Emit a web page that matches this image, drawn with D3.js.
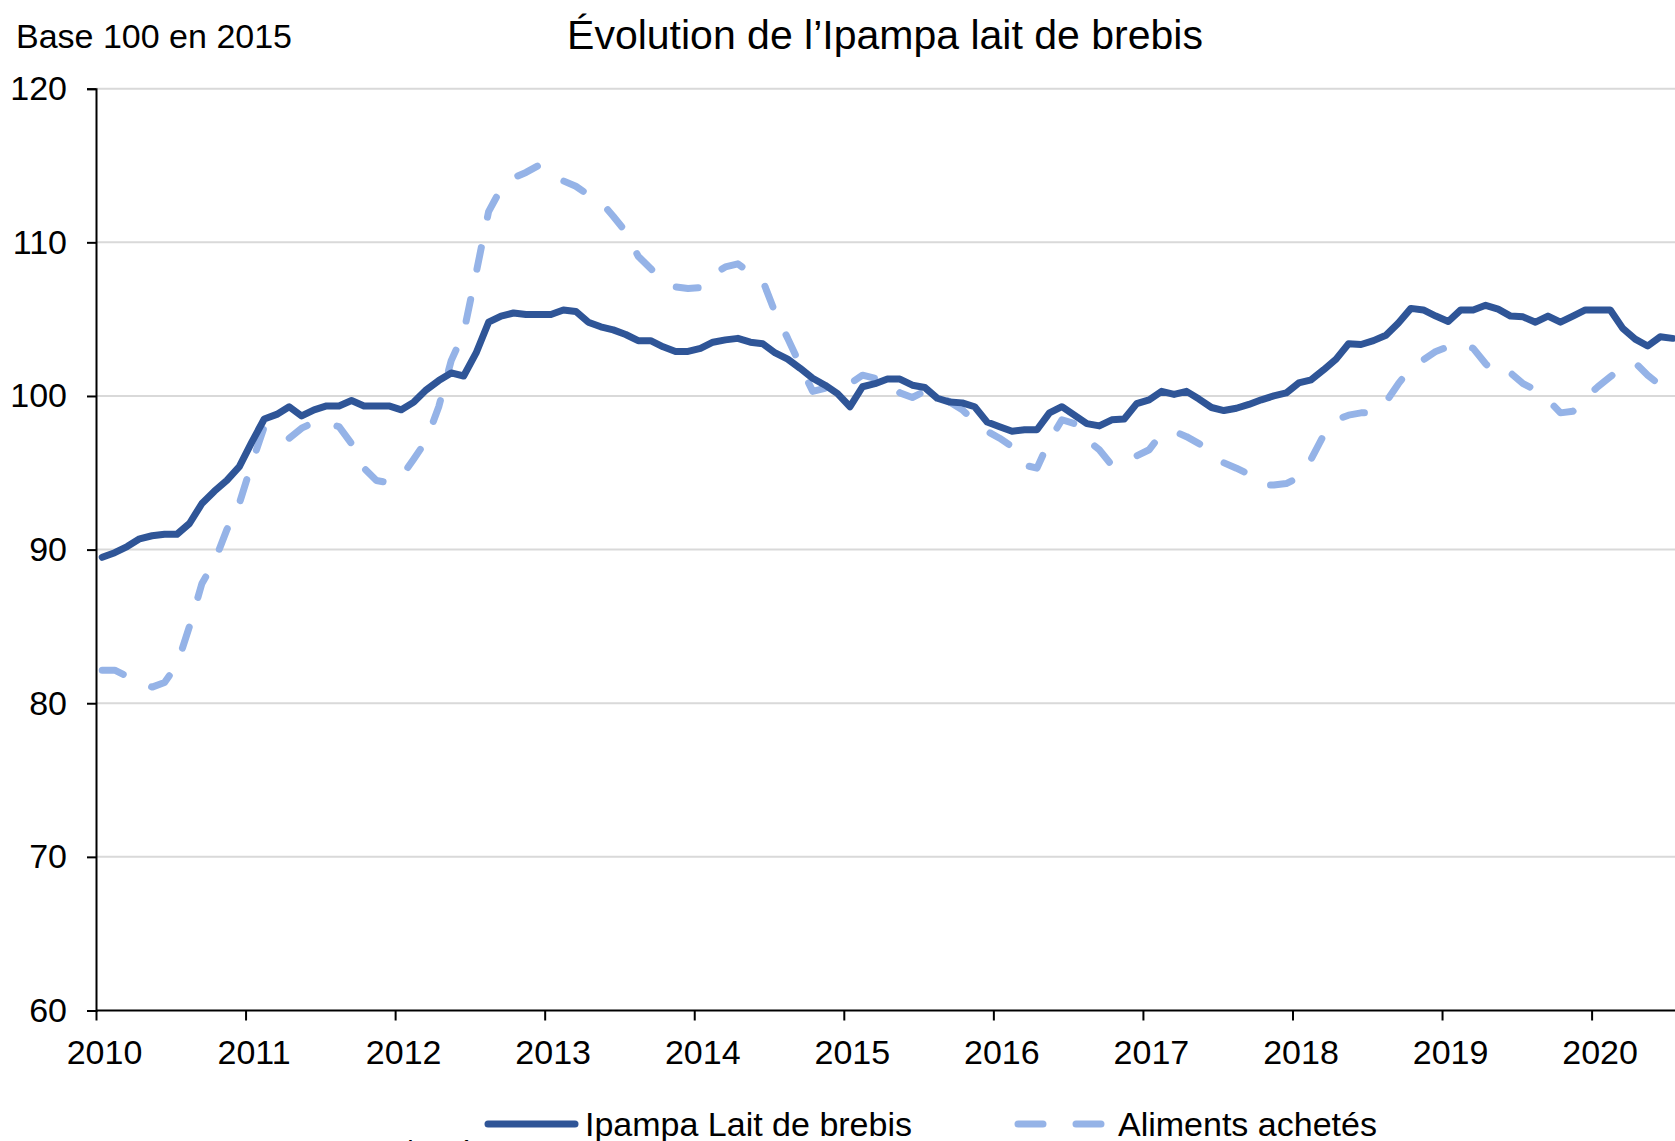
<!DOCTYPE html>
<html>
<head>
<meta charset="utf-8">
<script src="https://cdn.jsdelivr.net/npm/d3@7"></script>
<style>
  body { margin: 0; background: #fff; }
  text { font-family: "Liberation Sans", Arial, sans-serif; fill: #000; }
</style>
</head>
<body>
<div class="chart"></div>
<script>

// monthly values, January 2010 to July 2020
var ipampa = [
  89.5, 89.8, 90.2, 90.7, 90.9, 91.0, 91.0, 91.7, 93.0, 93.8, 94.5, 95.4,
  97.0, 98.5, 98.8, 99.3, 98.7, 99.1, 99.35, 99.35, 99.7, 99.35, 99.35, 99.35,
  99.1, 99.6, 100.4, 101.0, 101.5, 101.3, 102.8, 104.8, 105.2, 105.4, 105.3, 105.3,
  105.3, 105.6, 105.5, 104.8, 104.5, 104.3, 104.0, 103.6, 103.6, 103.2, 102.9, 102.9,
  103.1, 103.5, 103.65, 103.75, 103.5, 103.4, 102.8, 102.4, 101.8, 101.15, 100.7, 100.15,
  99.3, 100.6, 100.8, 101.1, 101.1, 100.7, 100.55, 99.85, 99.6, 99.55, 99.3, 98.3,
  98.0, 97.7, 97.8, 97.8, 98.9, 99.3, 98.75, 98.2, 98.05, 98.45, 98.5, 99.5,
  99.75, 100.3, 100.1, 100.3, 99.8, 99.25, 99.05, 99.2, 99.45, 99.75, 100.0, 100.2,
  100.85, 101.05, 101.7, 102.4, 103.4, 103.35, 103.6, 103.95, 104.75, 105.7, 105.6, 105.2,
  104.85, 105.6, 105.6, 105.9, 105.65, 105.2, 105.15, 104.8, 105.2, 104.8, 105.2, 105.6,
  105.6, 105.6, 104.4, 103.7, 103.25, 103.85, 103.75
];

var aliments = [
  82.15, 82.15, 81.75, 81.4, 81.05, 81.35, 82.5, 85.0, 87.8, 89.2, 91.3, 93.0,
  95.6, 98.0, 97.4, 97.25, 97.9, 98.3, 98.2, 98.0, 96.9, 95.3, 94.5, 94.35,
  94.75, 95.9, 97.1, 99.3, 102.3, 104.1, 108.0, 112.0, 113.5, 114.2, 114.55, 115.0,
  114.5, 114.0, 113.65, 113.1, 112.65, 111.7, 110.7, 109.1, 108.3, 107.4, 107.1, 107.0,
  107.05, 107.9, 108.4, 108.6, 108.0, 107.5, 105.4, 103.75, 102.0, 100.3, 100.5, 100.7,
  100.8, 101.35, 101.15, 101.05, 100.2, 99.9, 100.3, 100.15, 99.6, 99.1, 98.35, 97.7,
  97.25, 96.7, 95.5, 95.3, 97.1, 98.45, 98.2, 97.15, 96.5, 95.5, 95.9, 96.1,
  96.5, 97.55, 97.7, 97.35, 96.9, 96.4, 95.65, 95.3, 94.9, 94.2, 94.2, 94.3,
  94.7, 95.9, 97.45, 98.45, 98.75, 98.9, 98.9, 99.6, 100.8, 101.85, 102.35, 102.9,
  103.2, 103.45, 103.1, 102.1, 101.3, 101.5, 100.8, 100.4, 99.75, 98.9, 99.0, 99.85,
  100.6, 101.25, 101.9, 102.15, 101.35, 100.7, 100.4
];

var years = [2010, 2011, 2012, 2013, 2014, 2015, 2016, 2017, 2018, 2019, 2020];
var yTicks = [60, 70, 80, 90, 100, 110, 120];
var seriesNames = ["Ipampa Lait de brebis", "Aliments achetés"];

var w = 1675;
var h = 1141;
var plotLeft = 96;
var plotTop = 88.7;
var plotBottom = 1010.5;
var yearWidth = 149.56;

var svg = d3.select(".chart")
            .append("svg")
            .attr("width", w)
            .attr("height", h);

// months since January 2010
var x = d3.scaleLinear()
          .domain([0, 12])
          .range([plotLeft, plotLeft + yearWidth]);

var y = d3.scaleLinear()
          .domain([60, 120])
          .range([plotBottom, plotTop]);

// gridlines
svg.append("g")
   .selectAll("line")
   .data(yTicks.slice(1))
   .enter()
   .append("line")
   .attr("x1", plotLeft)
   .attr("x2", w)
   .attr("y1", function(d) { return y(d); })
   .attr("y2", function(d) { return y(d); })
   .attr("stroke", "#d9d9d9")
   .attr("stroke-width", 2);

// y axis
var yAxis = svg.append("g")
   .attr("transform", "translate(" + plotLeft + ",0)")
   .call(d3.axisLeft(y).tickValues(yTicks).tickSize(9).tickPadding(20));

// x axis
var xAxis = svg.append("g")
   .attr("transform", "translate(0," + plotBottom + ")")
   .call(d3.axisBottom(x)
           .tickValues(years.map(function(d) { return (d - 2010) * 12; }))
           .tickFormat(function(d) { return 2010 + d / 12; })
           .tickSize(10)
           .tickPadding(19));

xAxis.select(".domain").attr("d", "M" + plotLeft + ",0H" + w);
xAxis.selectAll(".tick text").attr("dx", 8);

[yAxis, xAxis].forEach(function(a) {
  a.select(".domain").attr("stroke", "#000").attr("stroke-width", 2);
  a.selectAll(".tick line").attr("stroke", "#000").attr("stroke-width", 2);
  a.selectAll(".tick text")
   .attr("font-family", "Liberation Sans, Arial, sans-serif")
   .attr("font-size", "34px")
   .attr("fill", "#000");
});

var line = d3.line()
             .x(function(d, i) { return x(i + 0.5); })
             .y(function(d) { return y(d); });

svg.append("path")
   .datum(aliments)
   .attr("d", line)
   .attr("fill", "none")
   .attr("stroke", "#95b3e7")
   .attr("stroke-width", 7)
   .attr("stroke-linecap", "round")
   .attr("stroke-linejoin", "round")
   .attr("stroke-dasharray", "22,31");

svg.append("path")
   .datum(ipampa)
   .attr("d", line)
   .attr("fill", "none")
   .attr("stroke", "#2f5597")
   .attr("stroke-width", 7)
   .attr("stroke-linejoin", "round")
   .attr("stroke-linecap", "round");

// titles
svg.append("text")
   .text("Base 100 en 2015")
   .attr("x", 16)
   .attr("y", 48)
   .attr("font-size", "34px");

svg.append("text")
   .text("Évolution de l’Ipampa lait de brebis")
   .attr("x", 885)
   .attr("y", 49)
   .attr("text-anchor", "middle")
   .attr("font-size", "41px");

// legend
var legend = svg.append("g");

legend.append("line")
      .attr("x1", 488).attr("x2", 575)
      .attr("y1", 1124).attr("y2", 1124)
      .attr("stroke", "#2f5597")
      .attr("stroke-width", 7)
      .attr("stroke-linecap", "round");

legend.append("text")
      .text(seriesNames[0])
      .attr("x", 585)
      .attr("y", 1136)
      .attr("font-size", "34px");

legend.append("line")
      .attr("x1", 1018).attr("x2", 1105)
      .attr("y1", 1124).attr("y2", 1124)
      .attr("stroke", "#95b3e7")
      .attr("stroke-width", 7)
      .attr("stroke-linecap", "round")
      .attr("stroke-dasharray", "25,33");

legend.append("text")
      .text(seriesNames[1])
      .attr("x", 1118)
      .attr("y", 1136)
      .attr("font-size", "34px");

// source line, cut by the bottom edge
svg.append("text")
   .text("Source : Agreste – Ipampa, d’après Insee")
   .attr("x", 51)
   .attr("y", 1160)
   .attr("font-size", "28px");

</script>
</body>
</html>
